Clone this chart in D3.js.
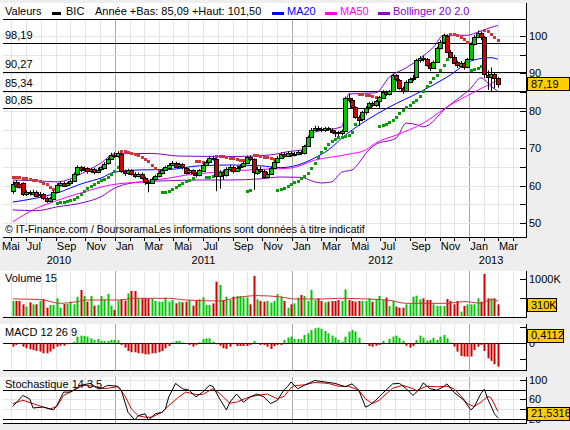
<!doctype html>
<html>
<head>
<meta charset="utf-8"/>
<style>
  body { margin: 0; background: #eeeeee; }
  svg { display: block; font-family: "Liberation Sans", Arial, sans-serif; }
</style>
</head>
<body>
<script src="https://cdn.jsdelivr.net/npm/d3@7/dist/d3.min.js"></script>
<script>
// weekly candles, one per Friday starting here
const firstWeek = new Date(2010, 5, 4);

const open = [
  58.5, 61.0, 60.4, 60.6, 57.6, 58.2, 57.9, 58.4, 57.4, 57.8,
  56.6, 55.9, 56.6, 58.4, 60.2, 60.8, 60.1, 60.6, 61.2, 63.2,
  65.0, 64.2, 64.6, 63.8, 64.4, 63.7, 64.3, 64.9, 65.9, 67.1,
  68.3, 67.9, 68.4, 63.8, 63.2, 64.1, 63.1, 62.6, 63.1, 62.0,
  61.0, 60.8, 61.8, 62.5, 63.4, 64.2, 64.9, 65.6, 66.1, 65.1,
  65.7, 64.8, 63.5, 64.1, 63.2, 62.8, 64.1, 65.6, 66.3, 67.5,
  67.2, 62.6, 63.6, 62.9, 64.5, 65.0, 64.0, 64.8, 65.2, 66.0,
  67.6, 67.1, 63.5, 64.5, 64.0, 62.5, 63.2, 64.8, 66.3, 67.5,
  68.5, 68.0, 68.8, 68.2, 68.5, 69.0, 68.6, 70.6, 73.0, 75.0,
  75.5, 75.2, 74.8, 75.3, 75.0, 74.4, 74.2, 74.0, 74.6, 83.4,
  82.8, 81.0, 78.4, 77.6, 79.6, 80.8, 82.0, 81.5, 82.6, 83.6,
  85.1, 84.5, 85.2, 89.5, 88.3, 86.1, 85.3, 87.8, 88.5, 88.9,
  93.5, 94.1, 93.9, 92.3, 91.5, 93.0, 96.8, 98.4, 100.1, 95.8,
  94.5, 93.0, 92.1, 92.8, 91.6, 93.8, 97.9, 99.8, 100.8, 99.6,
  89.6, 89.0, 89.9, 88.8
];
const high = [
  61.2, 61.5, 60.9, 60.9, 58.8, 58.7, 58.9, 58.7, 58.3, 58.0,
  57.0, 57.0, 58.7, 60.6, 61.2, 61.1, 61.0, 61.6, 63.5, 65.4,
  65.3, 65.1, 64.9, 64.8, 64.7, 64.8, 65.3, 66.3, 67.5, 68.8,
  68.9, 69.2, 68.6, 64.3, 64.5, 64.4, 63.6, 63.5, 63.4, 62.4,
  61.6, 62.2, 62.9, 63.8, 64.6, 65.3, 66.0, 66.6, 66.4, 66.1,
  66.0, 65.0, 64.5, 64.3, 63.6, 64.4, 65.9, 66.8, 67.9, 68.0,
  67.4, 64.1, 64.2, 64.9, 65.6, 65.3, 65.2, 65.7, 66.4, 68.0,
  68.1, 67.3, 65.0, 65.1, 64.3, 63.7, 65.1, 66.6, 67.9, 68.9,
  68.9, 69.2, 69.1, 69.0, 69.5, 69.4, 70.9, 73.4, 75.4, 76.0,
  75.9, 75.6, 75.7, 75.7, 75.3, 74.8, 74.6, 75.0, 83.8, 84.6,
  83.4, 81.2, 78.8, 80.0, 81.2, 82.4, 82.5, 82.9, 84.0, 85.5,
  85.4, 85.6, 89.9, 89.8, 88.5, 86.5, 88.1, 88.9, 89.6, 93.9,
  94.6, 94.8, 94.1, 92.8, 93.4, 97.2, 98.9, 100.6, 100.4, 96.3,
  94.9, 93.4, 93.3, 93.1, 94.1, 98.3, 100.3, 101.5, 101.2, 100.0,
  90.8, 91.6, 90.2, 89.0
];
const low = [
  57.8, 59.5, 59.2, 57.2, 57.2, 57.3, 57.4, 56.9, 56.8, 56.2,
  55.4, 55.5, 56.3, 58.1, 59.8, 59.6, 59.8, 60.2, 61.0, 63.0,
  63.6, 63.8, 63.2, 63.4, 63.0, 63.3, 64.0, 64.6, 65.6, 66.9,
  67.4, 67.5, 63.4, 62.6, 62.9, 62.7, 62.0, 62.2, 61.6, 60.2,
  58.2, 60.4, 61.4, 62.2, 63.0, 63.9, 64.5, 65.2, 64.7, 64.8,
  64.3, 63.0, 63.1, 62.6, 62.2, 62.5, 63.8, 65.2, 66.0, 66.7,
  58.5, 59.2, 61.6, 62.4, 63.9, 63.3, 63.6, 64.2, 64.9, 65.8,
  66.6, 58.8, 62.9, 63.4, 62.0, 62.0, 62.9, 64.5, 66.0, 67.2,
  67.5, 67.6, 67.7, 67.8, 68.1, 68.1, 68.3, 70.3, 72.7, 74.6,
  74.7, 74.3, 74.4, 74.6, 73.9, 73.0, 73.2, 73.4, 74.4, 82.2,
  80.6, 77.9, 76.0, 77.2, 79.0, 80.4, 81.0, 81.1, 80.8, 83.2,
  84.0, 84.1, 85.0, 87.9, 85.6, 84.5, 85.0, 87.4, 87.9, 88.7,
  92.9, 93.2, 91.8, 90.6, 91.2, 92.8, 96.4, 98.0, 95.4, 94.0,
  92.5, 91.5, 91.6, 91.0, 91.4, 93.6, 97.5, 99.4, 98.9, 88.7,
  85.6, 85.09, 86.0, 86.2
];
const close = [
  60.5, 59.8, 59.6, 57.6, 58.2, 57.9, 58.4, 57.4, 57.8, 56.6,
  55.9, 56.6, 58.4, 60.2, 60.8, 60.1, 60.6, 61.2, 63.2, 65.0,
  64.2, 64.6, 63.8, 64.4, 63.7, 64.3, 64.9, 65.9, 67.1, 68.3,
  67.9, 68.6, 63.8, 63.2, 64.1, 63.1, 62.6, 63.1, 62.0, 61.0,
  60.8, 61.8, 62.5, 63.4, 64.2, 64.9, 65.6, 66.1, 65.1, 65.7,
  64.8, 63.5, 64.1, 63.2, 62.8, 64.1, 65.6, 66.3, 67.5, 67.2,
  62.6, 63.6, 62.9, 64.5, 65.0, 64.0, 64.8, 65.2, 66.0, 67.6,
  67.1, 63.5, 64.5, 64.0, 62.5, 63.2, 64.8, 66.3, 67.5, 68.5,
  68.0, 68.8, 68.2, 68.5, 69.0, 68.6, 70.6, 73.0, 75.0, 75.5,
  75.2, 74.8, 75.3, 75.0, 74.4, 74.2, 74.0, 74.6, 83.4, 82.8,
  81.0, 78.4, 77.6, 79.6, 80.8, 82.0, 81.5, 82.6, 83.6, 85.1,
  84.5, 85.2, 89.5, 88.3, 86.1, 85.3, 87.8, 88.5, 88.9, 93.5,
  94.1, 93.9, 92.3, 91.5, 93.0, 96.8, 98.4, 100.2, 95.8, 94.5,
  93.0, 92.1, 92.8, 91.6, 93.8, 97.9, 99.8, 100.8, 99.6, 89.6,
  89.0, 89.9, 88.8, 87.19
];

// volume in thousands of shares
const volume = [
  409, 409, 409, 318, 255, 373, 318, 318, 409, 455,
  227, 300, 300, 482, 227, 327, 327, 391, 318, 527,
  709, 545, 391, 545, 282, 300, 545, 455, 600, 282,
  164, 418, 455, 418, 618, 682, 682, 482, 482, 482,
  464, 482, 409, 391, 391, 500, 391, 436, 345, 391,
  373, 391, 436, 282, 409, 455, 509, 300, 300, 345,
  936, 845, 436, 527, 436, 527, 545, 545, 509, 509,
  318, 1091, 455, 409, 391, 409, 364, 409, 600,
  527, 409, 227, 318, 345, 500, 573, 545, 409, 709, 436,
  482, 409, 373, 391, 409, 409, 436, 409, 727, 436,
  409, 391, 409, 409, 409, 482, 391, 464, 545, 436,
  500, 273, 409, 255,
  227, 227, 318, 318, 527, 555, 455, 482, 436, 436,
  318, 273, 273, 273, 464, 409, 318, 409, 118, 273,
  318, 318, 318, 482, 391, 1145, 482, 482, 482, 318
];
// moving average of volume, [week, thousands]
const volumeMa = [[0,464],[8,450],[14,345],[19,391],[22,436],[31,436],[36,482],[46,482],
  [51,436],[61,409],[66,500],[72,555],[79,520],[83,464],[91,464],[96,482],[104,464],
  [111,427],[116,345],[128,345],[133,391],[138,350],[141,445],[143,409]];

const macd = [
  -0.21, -0.10, -0.05, -0.21, -0.31, -0.375, -0.42, -0.48, -0.52, -0.625,
  -0.625, -0.52, -0.35, -0.21, -0.15, -0.15, -0.06, 0.02, 0.10, 0.42,
  0.48, 0.46, 0.42, 0.31, 0.21, 0.27, 0.15, 0.15, 0.15, 0.21,
  0.21, 0.19, -0.10, -0.27, -0.48, -0.56, -0.56, -0.625, -0.625, -0.69,
  -0.69, -0.625, -0.625, -0.56, -0.48, -0.31, -0.17, 0.06, 0.15, 0.15,
  0.06, -0.04, -0.10, -0.21, -0.10, 0.06, 0.27, 0.31, 0.31, 0.10,
  -0.06, -0.15, -0.31, -0.35, -0.21, -0.06, -0.17, -0.17, -0.17, -0.17,
  -0.10, 0.15, 0.02, -0.10, -0.10, -0.21, -0.35, -0.17, -0.10,
  -0.10, 0.21, 0.35, 0.42, 0.27, 0.27, 0.27, 0.52, 0.625, 0.83,
  0.94, 0.98, 0.90, 0.77, 0.625, 0.48, 0.35, 0.21, 0.10, 0.42,
  0.73, 0.83, 0.73, 0.35, 0.02, -0.02, -0.17, -0.21, -0.15, -0.10,
  0.15, 0.02, 0.27, 0.42, 0.48, 0.35, 0.15, -0.15, -0.27, -0.17,
  0.21, 0.48, 0.35, 0.15, 0.21, 0.35, 0.21, 0.42, 0.52, 0.31,
  0.06, -0.21, -0.52, -0.79, -0.83, -0.83, -0.83, -0.42, -0.21, -0.10,
  -0.48, -0.94, -1.10, -1.31, -1.46
];

// stochastic 14 3 5, [week, value]
const stochK = [[0,45],[3,68],[5,61],[6,42],[9,44],[12,38],[13,47],[15,75],[17,75],[18,79],
  [20,89],[23,93],[25,82],[26,82],[28,89],[31,87],[32,79],[34,33],[36,17],[37,26],[39,30],
  [40,17],[42,30],[44,33],[45,40],[46,65],[48,93],[50,82],[52,79],[54,65],[56,75],[58,89],
  [59,87],[61,61],[63,38],[64,54],[66,71],[68,54],[70,65],[72,71],[74,65],[76,51],[78,58],
  [80,80],[81,86],[82,96],[84,82],[86,89],[89,99],[92,96],[95,93],[98,86],[100,92],[102,79],
  [104,44],[105,47],[107,58],[109,72],[112,92],[114,93],[116,82],[118,68],[120,82],[121,94],
  [123,82],[125,79],[127,86],[128,92],[130,75],[133,58],[135,38],[136,44],[138,72],[139,81],
  [140,61],[142,30],[143,21.5316]];
const stochD = [[0,51],[3,58],[6,51],[9,44],[11,40],[13,45],[15,68],[18,79],[21,89],[24,87],
  [27,82],[31,86],[33,68],[35,40],[37,26],[39,23],[41,23],[44,33],[46,47],[49,65],[51,75],
  [54,70],[56,70],[59,82],[61,72],[64,52],[66,54],[69,63],[72,68],[75,71],[78,61],[80,66],
  [82,84],[83,88],[86,90],[89,95],[93,93],[96,87],[99,87],[102,79],[104,61],[106,51],[108,58],
  [112,83],[115,89],[118,82],[119,78],[122,87],[125,86],[128,87],[130,82],[132,68],[134,51],
  [136,45],[138,54],[140,66],[141,63],[143,35]];

// moving averages and Bollinger bands, [week, price]
const ma20 = [[0,55.6],[13,58],[21,60.7],[26,62],[30,63.6],[38,64.2],[46,64.3],[55,65.3],
  [64,65.5],[73,65.3],[79,64.8],[84,65.5],[89,67.4],[93,69.5],[98,73.5],[103,76.7],[111,81],
  [120,85],[128,89],[136,93.6],[141,94.2],[143,93.8]];
const ma50 = [[0,50.3],[6,53.5],[13,56],[21,58.3],[29,60.2],[38,61],[46,62],[51,62.8],
  [60,63.6],[70,64.2],[82,64.7],[89,66.8],[99,68.4],[104,69.5],[107,71.4],[113,73.5],
  [121,76.7],[128,81],[136,85],[143,88.2]];
const bollUp = [[0,61.5],[7,61.3],[13,61],[21,63.5],[26,66],[30,68.5],[41,68.6],[49,67.9],
  [58,67.8],[67,67.8],[76,68.2],[82,69.2],[85,69.5],[89,74.3],[97,75.7],[99,84.5],[107,84.8],
  [111,89],[116,91.5],[120,94],[124,97],[127,100.2],[134,100.2],[137,101],[141,102.3],[143,102.8]];
const bollLow = [[0,53.5],[7,53.3],[13,54.3],[21,55.5],[26,57],[30,59.3],[38,61],[46,61.3],
  [55,61.5],[64,61.5],[73,61.8],[79,62.3],[85,62.2],[89,61],[91,60.7],[94,61],[97,63.6],
  [100,64.2],[102,66],[104,68.5],[107,71],[113,72.7],[116,76.7],[119,76.3],[121,75.7],
  [128,81],[135,86],[138,88.8],[141,86.5],[143,85.2]];

const levels = [98.19, 90.27, 85.34, 80.85];
const priceTicks = [100, 90, 80, 70, 60, 50];
const monthNames = ['Jan', 'Fév', 'Mar', 'Avr', 'Mai', 'Jun', 'Jul', 'Aoû', 'Sep', 'Oct', 'Nov', 'Déc'];

const green = '#00c800', red = '#d00000';
const fmt = v => String(v).replace('.', ',');

const W = 570, H = 430, L = 3, R = 526;
const weeks = d3.timeFriday.range(firstWeek, d3.timeDay.offset(firstWeek, 7 * close.length));
const n = close.length;

const x = d3.scaleTime()
  .domain([new Date(2010, 4, 15), new Date(2013, 3, 28)])
  .range([L, R]);
const cx = i => Math.round(x(weeks[i]));

const panels = {
  main: { top: 19, bottom: 237, white: 3 },
  vol: { top: 271, bottom: 317, white: 271 },
  macd: { top: 324, bottom: 370, white: 324 },
  stoch: { top: 377, bottom: 423, white: 377 }
};

const y = d3.scaleLinear().domain([100, 50]).range([36, 223]);
const yVol = d3.scaleLinear().domain([0, 1000]).range([316, 279.3]);
const yMacd = d3.scaleLinear().domain([-1, 1]).range([359.3, 327.3]);
const yStoch = d3.scaleLinear().domain([20, 100]).range([418.6, 380]);

const svg = d3.select('body').append('svg')
  .attr('width', W).attr('height', H);
svg.append('rect').attr('width', W).attr('height', H).attr('fill', '#eeeeee');

for (const p of Object.values(panels)) {
  svg.append('rect').attr('x', 0).attr('y', p.white)
    .attr('width', R).attr('height', p.bottom - p.white).attr('fill', '#fff');
}

const months = d3.timeMonth.range(d3.timeMonth.floor(x.domain()[0]), x.domain()[1]);
const gridMonths = months.filter(m => x(m) > L);

// vertical grid in all panels
for (const p of Object.values(panels)) {
  svg.append('g').selectAll('line').data(gridMonths).join('line')
    .attr('x1', m => Math.round(x(m)) + 0.5).attr('x2', m => Math.round(x(m)) + 0.5)
    .attr('y1', p.top).attr('y2', p.bottom)
    .attr('stroke', m => m.getMonth() === 0 ? '#a8a8a8' : '#e4e4e4');
}

// horizontal price grid every 5
svg.append('g').selectAll('line').data(d3.range(50, 101, 5)).join('line')
  .attr('x1', L).attr('x2', R)
  .attr('y1', v => Math.round(y(v)) + 0.5).attr('y2', v => Math.round(y(v)) + 0.5)
  .attr('stroke', '#e4e4e4');

// stochastic grid
svg.append('g').selectAll('line').data([100, 60, 40]).join('line')
  .attr('x1', L).attr('x2', R)
  .attr('y1', v => Math.round(yStoch(v)) + 0.5).attr('y2', v => Math.round(yStoch(v)) + 0.5)
  .attr('stroke', '#e4e4e4');

svg.append('clipPath').attr('id', 'clipMain').append('rect')
  .attr('x', L).attr('y', panels.main.top).attr('width', R - L).attr('height', panels.main.bottom - panels.main.top);

const main = svg.append('g').attr('clip-path', 'url(#clipMain)');

// support / resistance levels
main.append('g').selectAll('line').data(levels).join('line')
  .attr('x1', L).attr('x2', R)
  .attr('y1', v => Math.round(y(v)) + 0.5).attr('y2', v => Math.round(y(v)) + 0.5)
  .attr('stroke', '#000');
svg.append('g').selectAll('text').data(levels).join('text')
  .attr('x', 5).attr('y', v => Math.round(y(v)) - 4)
  .attr('font-size', 11).text(fmt);

const priceLine = d3.line().x(d => x(weeks[d[0]])).y(d => y(d[1])).curve(d3.curveMonotoneX);
[[bollUp, '#8800cc'], [bollLow, '#8800cc'], [ma50, '#ff00ff'], [ma20, '#0000ff']].forEach(([data, color]) => {
  main.append('path').datum(data).attr('d', priceLine)
    .attr('fill', 'none').attr('stroke', color).attr('stroke-width', 1);
});

// parabolic SAR computed from the weekly highs and lows
function parabolicSar(hi, lo, start) {
  const out = [];
  let up = false, af = 0.02, ep = lo[0], sar = start;
  out.push({ v: sar, up });
  for (let i = 1; i < hi.length; i++) {
    let next = sar + af * (ep - sar);
    if (up) {
      next = Math.min(next, lo[i - 1], lo[Math.max(0, i - 2)]);
      if (lo[i] < next) { up = false; next = ep; ep = lo[i]; af = 0.02; }
      else if (hi[i] > ep) { ep = hi[i]; af = Math.min(af + 0.02, 0.2); }
    } else {
      next = Math.max(next, hi[i - 1], hi[Math.max(0, i - 2)]);
      if (hi[i] > next) { up = true; next = ep; ep = hi[i]; af = 0.02; }
      else if (lo[i] < ep) { ep = lo[i]; af = Math.min(af + 0.02, 0.2); }
    }
    sar = next;
    out.push({ v: sar, up });
  }
  return out;
}
const sar = parabolicSar(high, low, 62.4);
main.append('g').selectAll('rect').data(sar).join('rect')
  .attr('x', (d, i) => cx(i) - 1).attr('y', d => Math.round(y(d.v)) - 1)
  .attr('width', 3).attr('height', 3)
  .attr('fill', d => d.up ? '#0a9a0a' : '#cc3838');

// candles
const idx = d3.range(n);
const up = i => close[i] >= open[i];
main.append('g').selectAll('line').data(idx).join('line')
  .attr('x1', i => cx(i) + 0.5).attr('x2', i => cx(i) + 0.5)
  .attr('y1', i => y(high[i])).attr('y2', i => y(low[i]))
  .attr('stroke', '#000');
main.append('g').selectAll('rect').data(idx).join('rect')
  .attr('x', i => cx(i) - 1.5)
  .attr('y', i => Math.round(y(Math.max(open[i], close[i]))) + 0.5)
  .attr('width', 4)
  .attr('height', i => Math.max(1, Math.round(Math.abs(y(open[i]) - y(close[i])))))
  .attr('fill', i => up(i) ? green : red)
  .attr('stroke', '#000');

main.append('text').attr('x', 5).attr('y', 233).attr('font-size', 10.5)
  .text('© IT-Finance.com / BoursoramaLes informations sont données à titre indicatif');

// volume
svg.append('g').selectAll('rect').data(idx).join('rect')
  .attr('x', i => cx(i) - 0.5).attr('width', 2)
  .attr('y', i => yVol(volume[i])).attr('height', i => yVol(0) - yVol(volume[i]))
  .attr('fill', i => up(i) ? green : red);
svg.append('path').datum(volumeMa)
  .attr('d', d3.line().x(d => x(weeks[d[0]])).y(d => yVol(d[1])).curve(d3.curveMonotoneX))
  .attr('fill', 'none').attr('stroke', '#cc3333');

// MACD
svg.append('line').attr('x1', L).attr('x2', R)
  .attr('y1', Math.round(yMacd(0)) + 0.5).attr('y2', Math.round(yMacd(0)) + 0.5).attr('stroke', '#000');
svg.append('g').selectAll('rect').data(idx).join('rect')
  .attr('x', i => cx(i) - 0.5).attr('width', 2)
  .attr('y', i => Math.min(yMacd(macd[i]), yMacd(0)))
  .attr('height', i => Math.abs(yMacd(macd[i]) - yMacd(0)))
  .attr('fill', i => macd[i] >= 0 ? green : red);

// stochastic
svg.append('g').selectAll('line').data([80, 20]).join('line')
  .attr('x1', L).attr('x2', R)
  .attr('y1', v => Math.round(yStoch(v)) + 0.5).attr('y2', v => Math.round(yStoch(v)) + 0.5)
  .attr('stroke', '#000');
const stochLine = d3.line().x(d => x(weeks[d[0]])).y(d => yStoch(d[1]));
svg.append('path').datum(stochD).attr('d', stochLine)
  .attr('fill', 'none').attr('stroke', '#d00000');
svg.append('path').datum(stochK).attr('d', stochLine)
  .attr('fill', 'none').attr('stroke', '#000');

// panel frames: bottom line and right axis
for (const p of Object.values(panels)) {
  svg.append('line').attr('x1', L).attr('x2', R + 0.5)
    .attr('y1', p.bottom + 0.5).attr('y2', p.bottom + 0.5).attr('stroke', '#000');
  svg.append('line').attr('x1', R + 0.5).attr('x2', R + 0.5)
    .attr('y1', p.white).attr('y2', p.bottom + 1).attr('stroke', '#000');
}
svg.append('line').attr('x1', L).attr('x2', R)
  .attr('y1', 19.5).attr('y2', 19.5).attr('stroke', '#000');

// right axes
const rightTicks = (scale, values, labels) => {
  const g = svg.append('g');
  g.selectAll('line').data(values).join('line')
    .attr('x1', R - 6).attr('x2', R)
    .attr('y1', v => Math.round(scale(v)) + 0.5).attr('y2', v => Math.round(scale(v)) + 0.5)
    .attr('stroke', '#000');
  g.selectAll('text').data(labels).join('text')
    .attr('x', R + 3).attr('y', d => scale(d[0])).attr('dy', '0.36em')
    .attr('font-size', 11).text(d => d[1]);
};
rightTicks(y, d3.range(50, 101, 5), priceTicks.map(v => [v, String(v)]));
rightTicks(yVol, [500, 1000], [[1000, '1000K']]);
rightTicks(yMacd, [-1, 0, 1], [[0, '0']]);
rightTicks(yStoch, [20, 40, 60, 80, 100], [[100, '100'], [60, '60'], [20, '20']]);

// value boxes
const valueBox = (yc, label, w) => {
  const g = svg.append('g');
  g.append('rect').attr('x', R + 1.5).attr('y', Math.round(yc - 6.5) + 0.5)
    .attr('width', w).attr('height', 13)
    .attr('fill', '#ffcc00').attr('stroke', '#000');
  g.append('text').attr('x', R + 5).attr('y', yc).attr('dy', '0.36em')
    .attr('font-size', 11).text(label);
};
valueBox(y(close[n - 1]), fmt(close[n - 1]), 42);
valueBox(yVol(310), '310K', 29);
valueBox(yMacd(0.4112) - 1.5, '0,4112', 36);
valueBox(yStoch(21.5316) - 4.5, '21,5316', 42);

// x axis
svg.append('g').selectAll('line').data(gridMonths).join('line')
  .attr('x1', m => Math.round(x(m)) + 0.5).attr('x2', m => Math.round(x(m)) + 0.5)
  .attr('y1', panels.main.bottom).attr('y2', panels.main.bottom + 4)
  .attr('stroke', '#000');
svg.append('g').selectAll('text').data(months.filter(m => m.getMonth() % 2 === 0)).join('text')
  .attr('x', m => Math.max(2, x(m) + 1)).attr('y', 250)
  .attr('font-size', 11).text(m => monthNames[m.getMonth()]);
const years = [2010, 2011, 2012, 2013];
const lastMonth = d3.timeMonth.floor(x.domain()[1]);
svg.append('g').selectAll('text').data(years).join('text')
  .attr('x', yr => {
    const a = Math.max(x(new Date(yr, 0, 1)), L);
    const b = Math.min(x(new Date(yr + 1, 0, 1)), x(lastMonth));
    return (a + b) / 2;
  })
  .attr('y', 264).attr('text-anchor', 'middle').attr('font-size', 11).text(String);

// panel titles
svg.append('text').attr('x', 5).attr('y', 282).attr('font-size', 11).text('Volume 15');
svg.append('text').attr('x', 5).attr('y', 336).attr('font-size', 11).text('MACD 12 26 9');
svg.append('text').attr('x', 5).attr('y', 388).attr('font-size', 11).text('Stochastique 14 3 5');

// legend
const legend = svg.append('g').attr('font-size', 11);
legend.append('text').attr('x', 5).attr('y', 15).text('Valeurs');
legend.append('rect').attr('x', 52).attr('y', 12).attr('width', 9).attr('height', 3).attr('fill', '#000');
legend.append('text').attr('x', 66).attr('y', 15).text('BIC');
legend.append('text').attr('x', 95).attr('y', 15).text('Année +Bas: 85,09 +Haut: 101,50');
[[272, 'MA20', '#0000ff'], [325, 'MA50', '#ff00ff'], [378, 'Bollinger 20 2.0', '#8800cc']].forEach(([lx, t, c]) => {
  legend.append('rect').attr('x', lx).attr('y', 12).attr('width', 12).attr('height', 3).attr('fill', c);
  legend.append('text').attr('x', lx + 15).attr('y', 15).attr('fill', c).text(t);
});
</script>
</body>
</html>
